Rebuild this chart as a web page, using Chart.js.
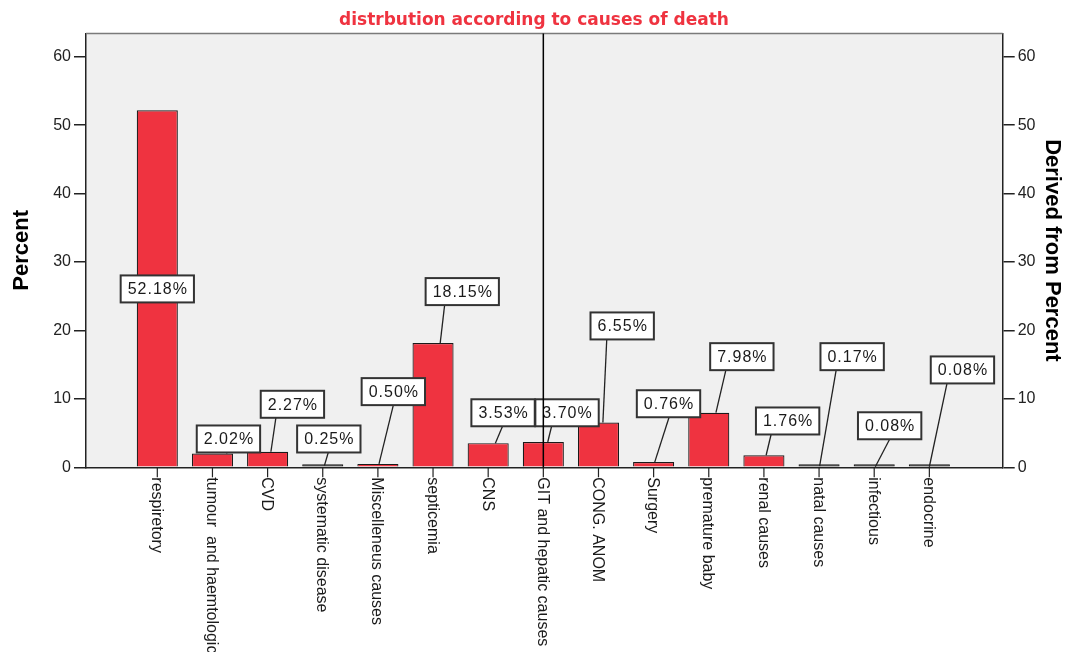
<!DOCTYPE html>
<html>
<head>
<meta charset="utf-8">
<script src="https://cdn.jsdelivr.net/npm/chart.js@4.4.1/dist/chart.umd.min.js"></script>
<style>
html,body{margin:0;padding:0;background:#fff;}
#wrap{width:1068px;height:652px;}
</style>
</head>
<body>
<div id="wrap"><canvas id="myChart" width="1068" height="652"></canvas></div>
<script>
const causes = ['respiretory', 'tumour  and haemtological', 'CVD', 'systematic disease', 'Miscelleneus causes',
    'septicemia', 'CNS', 'GIT and hepatic causes', 'CONG. ANOM', 'Surgery', 'premature baby',
    'renal causes', 'natal causes', 'infectious', 'endocrine'];
const percent = [52.18, 2.02, 2.27, 0.25, 0.50, 18.15, 3.53, 3.70, 6.55, 0.76, 7.98, 1.76, 0.17, 0.08, 0.08];
const yTicks = [0, 10, 20, 30, 40, 50, 60];
const markerCause = 'GIT and hepatic causes';

// where the value boxes sit: offset from the bar in categories, height in percent
const boxDx = [0, 0.29, 0.45, 0.11, 0.28, 0.53, 0.27, 0.43, 0.43, 0.27, 0.60, 0.43, 0.60, 0.28, 0.60];
const boxY = [26.07, 4.14, 9.21, 4.14, 11.06, 25.68, 7.97, 7.97, 20.66, 9.29, 16.17, 6.77, 16.17, 6.07, 14.23];
// leader line ends (category offsets), top at box, bottom at bar top
const leadTopDx = [null, 0.26, 0.15, 0.10, 0.28, 0.21, 0.26, 0.15, 0.15, 0.28, 0.31, 0.13, 0.31, 0.28, 0.32];
const leadBotDx = [null, 0.26, 0.06, 0.03, 0.02, 0.13, 0.13, 0.08, 0.08, 0.02, 0.13, 0.04, 0.01, 0.02, 0.0];

const FONT = "'Liberation Sans', Arial, sans-serif";

const spssLook = {
    id: 'spssLook',
    beforeDraw(chart) {
        const {ctx, chartArea: a} = chart;
        ctx.save();
        ctx.fillStyle = '#F0F0F0';
        ctx.fillRect(a.left, a.top, a.right - a.left, a.bottom - a.top);
        ctx.restore();
    },
    afterDatasetsDraw(chart) {
        const {ctx, chartArea: a} = chart;
        const xs = chart.scales.x, ys = chart.scales.y;
        ctx.save();

        // top frame line
        ctx.strokeStyle = '#7a7a7a';
        ctx.lineWidth = 1.5;
        ctx.beginPath();
        ctx.moveTo(a.left, a.top);
        ctx.lineTo(a.right, a.top);
        ctx.stroke();

        // category ticks + rotated labels
        ctx.strokeStyle = '#222';
        ctx.lineWidth = 1.2;
        ctx.fillStyle = '#1a1a1a';
        ctx.font = '16px ' + FONT;
        for (let i = 0; i < causes.length; i++) {
            const px = xs.getPixelForValue(i);
            ctx.beginPath();
            ctx.moveTo(px, a.bottom);
            ctx.lineTo(px, a.bottom + 10);
            ctx.stroke();
            ctx.save();
            ctx.translate(px, a.bottom + 10);
            ctx.rotate(Math.PI / 2);
            ctx.textAlign = 'left';
            ctx.textBaseline = 'middle';
            ctx.fillText(causes[i], 0, 1);
            ctx.restore();
        }

        // leader lines
        ctx.strokeStyle = '#222';
        ctx.lineWidth = 1.3;
        const boxH = 27;
        for (let i = 0; i < percent.length; i++) {
            if (leadTopDx[i] === null) continue;
            ctx.beginPath();
            ctx.moveTo(xs.getPixelForValue(i + leadTopDx[i]), ys.getPixelForValue(boxY[i]) + boxH / 2);
            ctx.lineTo(xs.getPixelForValue(i + leadBotDx[i]), ys.getPixelForValue(percent[i]));
            ctx.stroke();
        }

        // value boxes
        ctx.font = '16px ' + FONT;
        ctx.letterSpacing = '1px';
        ctx.textAlign = 'center';
        ctx.textBaseline = 'middle';
        for (let i = 0; i < percent.length; i++) {
            const txt = percent[i].toFixed(2) + '%';
            const w = ctx.measureText(txt).width + 13;
            const cx = xs.getPixelForValue(i + boxDx[i]);
            const cy = ys.getPixelForValue(boxY[i]);
            ctx.fillStyle = '#fff';
            ctx.fillRect(cx - w / 2, cy - boxH / 2, w, boxH);
            ctx.strokeStyle = '#333';
            ctx.lineWidth = 2;
            ctx.strokeRect(cx - w / 2, cy - boxH / 2, w, boxH);
            ctx.fillStyle = '#1a1a1a';
            ctx.fillText(txt, cx + 0.5, cy + 1);
        }
        ctx.letterSpacing = '0px';

        // vertical reference line
        const mx = xs.getPixelForValue(causes.indexOf(markerCause));
        ctx.strokeStyle = '#000';
        ctx.lineWidth = 1.5;
        ctx.beginPath();
        ctx.moveTo(mx, a.top);
        ctx.lineTo(mx, a.bottom);
        ctx.stroke();

        ctx.restore();
    }
};

const yAxisCommon = {
    min: 0,
    max: 63.4,
    afterBuildTicks: s => { s.ticks = yTicks.map(v => ({value: v})); },
    grid: { drawOnChartArea: false, drawTicks: true, tickLength: 12, color: '#222', lineWidth: 1.5 },
    border: { display: true, color: '#222', width: 1.5 },
    ticks: { color: '#222', font: { family: FONT, size: 16 }, padding: 3 }
};

const ctx = document.getElementById('myChart').getContext('2d');
const chart = new Chart(ctx, {
    type: 'bar',
    data: {
        datasets: [{
            data: percent.map((v, i) => ({x: i, y: v})),
            // very thin bars show up as dark strokes in the original
            backgroundColor: c => (c.raw && c.raw.y < 0.3) ? '#111' : '#EF3340',
            borderColor: '#1a1a1a',
            borderWidth: 1.2,
            minBarLength: 3,
            barPercentage: 0.745,
            categoryPercentage: 1
        }]
    },
    options: {
        responsive: false,
        animation: false,
        layout: { padding: 0 },
        plugins: {
            legend: { display: false },
            tooltip: { enabled: false },
            title: {
                display: true,
                text: 'distrbution according to causes of death',
                color: '#EF3340',
                font: { family: 'DejaVu Sans', size: 17, weight: 'bold' },
                padding: { top: 10, bottom: 3.1 }
            }
        },
        scales: {
            x: {
                type: 'linear',
                offset: false,
                min: -1.293,
                max: 15.33,
                afterFit: s => { s.height = 184.7; },
                grid: { display: false, offset: false },
                ticks: { display: false },
                border: { display: true, color: '#222', width: 1.5 }
            },
            y: Object.assign({}, yAxisCommon, {
                position: 'left',
                afterFit: s => { s.width = 86; },
                title: { display: true, text: 'Percent', color: '#000',
                    font: { family: FONT, size: 22, weight: 'bold' }, padding: { top: 9, bottom: 0 } }
            }),
            y2: Object.assign({}, yAxisCommon, {
                position: 'right',
                afterFit: s => { s.width = 65.3; },
                title: { display: true, text: 'Derived from Percent', color: '#000',
                    font: { family: FONT, size: 22, weight: 'bold' }, padding: { top: 3, bottom: 0 } }
            })
        }
    },
    plugins: [spssLook]
});
</script>
</body>
</html>
